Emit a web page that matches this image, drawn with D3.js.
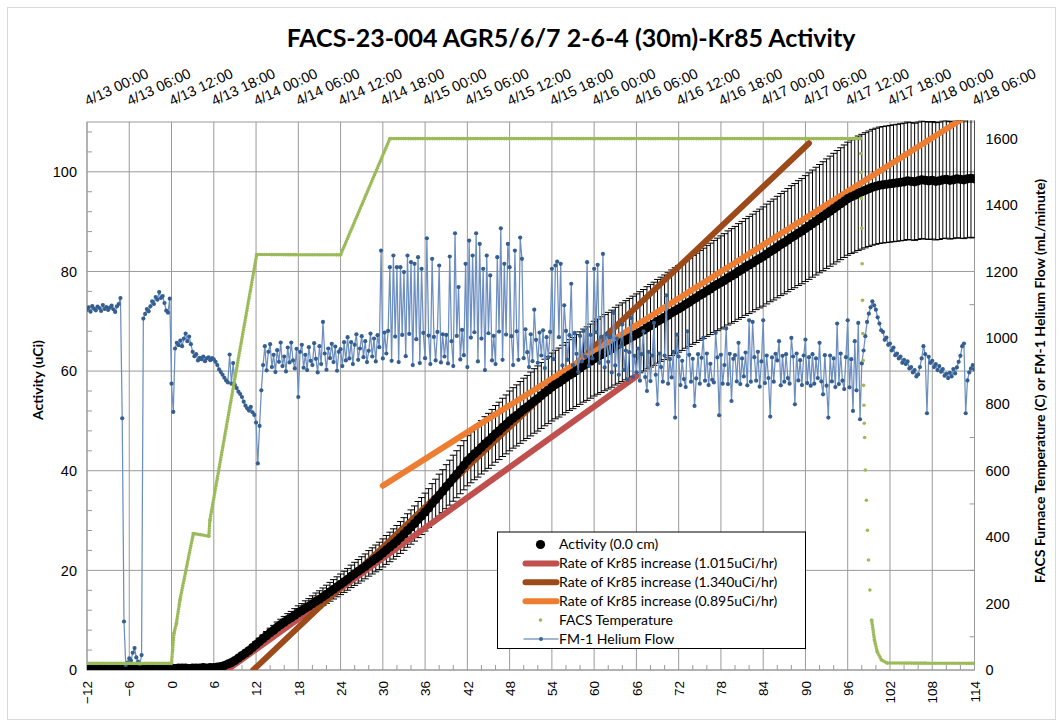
<!DOCTYPE html>
<html>
<head>
<meta charset="utf-8">
<script src="https://cdn.jsdelivr.net/npm/d3@7"></script>
<style>
  body { margin: 0; background: #fff; }
  svg { display: block; font-family: Lato, "Open Sans", "Liberation Sans", sans-serif; }
</style>
</head>
<body>
<svg id="chart" width="1063" height="728"></svg>
<script>
// ---------------- data ----------------
// Bottom axis: hours from start of heat-up
const hourTicks = [-12,-6,0,6,12,18,24,30,36,42,48,54,60,66,72,78,84,90,96,102,108,114];
// Top axis: clock time for the same span
const clockTicks = ["4/13 00:00","4/13 06:00","4/13 12:00","4/13 18:00","4/14 00:00","4/14 06:00",
  "4/14 12:00","4/14 18:00","4/15 00:00","4/15 06:00","4/15 12:00","4/15 18:00","4/16 00:00",
  "4/16 06:00","4/16 12:00","4/16 18:00","4/17 00:00","4/17 06:00","4/17 12:00","4/17 18:00",
  "4/18 00:00","4/18 06:00"];
const activityTicks = [0,20,40,60,80,100];
const secondaryTicks = [0,200,400,600,800,1000,1200,1400,1600];

// Kr-85 activity (uCi), one reading every half hour starting at -12 h
const activityStartHour = -12, activityInterval = 0.5;
const activity = [
  0.4,0.3,0.4,0.4,0.3,0.4,0.3,0.4,0.4,0.3,0.4,0.4,0.3,0.4,0.4,0.3,0.3,0.4,0.4,0.3,0.4,0.4,0.3,0.4,
  0.4,0.3,0.4,0.4,0.4,0.3,0.4,0.4,0.4,0.5,0.4,0.5,0.5,
  0.6,0.7,0.9,1.2,1.5,1.9,2.4,2.9,3.4,3.9,4.5,5.1,
  5.7,6.3,6.9,7.5,8.0,8.6,9.1,9.6,10.1,10.5,11.0,11.5,
  11.9,12.4,12.8,13.3,13.8,14.2,14.7,15.2,15.7,16.2,16.7,17.2,
  17.7,18.2,18.8,19.3,19.8,20.3,20.8,21.4,21.9,22.4,22.9,23.5,
  24.1,24.7,25.3,25.9,26.6,27.3,28.0,28.7,29.4,30.2,30.9,31.7,
  32.5,33.4,34.2,35.1,35.9,36.8,37.6,38.5,39.3,40.2,41.1,42.0,
  42.7,43.4,44.0,44.7,45.4,46.0,46.7,47.4,48.0,48.7,49.3,50.0,
  50.6,51.1,51.7,52.3,52.8,53.4,54.0,54.5,55.1,55.7,56.2,56.8,
  57.3,57.7,58.2,58.7,59.2,59.6,60.1,60.6,61.1,61.5,62.0,62.5,
  62.9,63.3,63.7,64.1,64.5,65.0,65.4,65.8,66.2,66.6,67.0,67.4,
  67.8,68.2,68.7,69.1,69.5,70.0,70.4,70.8,71.2,71.7,72.1,72.5,
  72.9,73.4,73.8,74.3,74.7,75.2,75.6,76.1,76.5,77.0,77.4,77.8,
  78.2,78.7,79.1,79.5,80.0,80.4,80.9,81.3,81.7,82.2,82.6,83.0,
  83.5,84.0,84.4,84.9,85.4,85.8,86.3,86.8,87.2,87.7,88.1,88.6,
  89.1,89.6,90.1,90.6,91.1,91.6,92.1,92.6,93.1,93.6,94.1,94.6,
  95.0,95.3,95.7,96.0,96.3,96.6,96.9,97.1,97.3,97.4,97.5,97.6,
  97.7,97.8,97.9,98.0,98.2,98.1,98.0,98.2,98.4,98.3,98.2,98.3,
  98.1,98.2,98.4,98.5,98.3,98.4,98.6,98.5,98.4,98.6,98.7,98.6
];
const activityErrorPct = 0.12;

// Fitted rates of Kr-85 increase: start point (h, uCi), rate (uCi/hr), end hour
const rateLabels = ["1.015", "1.340", "0.895"];
const rateStartHour = [7.9, 11.6, 30];
const rateStartValue = [0, 0, 37];
const rateEndHour = [66, 90.5, 112.5];
const rateColors = ["#c0504d", "#9c4a1a", "#ed7d31"];

// FACS furnace temperature (C) readings
const tempHours = [-12, 0, 0.15, 0.35, 0.7, 1.2, 3.1, 5.3, 5.45, 12.1, 24.0, 31.0, 97.8,
  97.85, 97.9, 97.95, 98.0, 98.05, 98.1, 98.15, 98.2, 98.25, 98.3, 98.35, 98.4,
  98.5, 98.65, 98.8, 98.95, 99.15, 99.4, 99.8, 100.2, 100.8, 101.6, 114];
const tempValues = [20, 20, 60, 111, 141, 211, 411, 403, 451, 1251, 1250, 1600, 1600,
  1555, 1498, 1420, 1330, 1223, 1113, 1013, 932, 857, 797, 743, 700,
  602, 511, 421, 331, 241, 150, 90, 54, 30, 21, 20];

// FM-1 helium flow (mL/min), one reading every quarter hour starting at -12 h
const flowStartHour = -12, flowInterval = 0.25;
const flow = [
  1085,1092,1079,1096, 1088,1083,1094,1090, 1081,1099,1087,1093, 1084,1091,1097,1086,
  1078,1095,1102,1120, 758,146,15,22, 35,28,52,66, 38,25,18,45,
  1058,1072,1087,1080, 1095,1110,1102,1123, 1115,1138,1120,1126, 1105,1082,1076,1118,
  862,777,968,985, 978,992,975,998, 1013,990,1004,981, 958,945,951,932,
  940,936,944,930, 938,941,933,939, 935,928,918,905, 897,889,880,872,
  866,950,862,924, 858,849,838,831, 822,808,796,788, 781,792,776,768,
  745,622,735,842, 918,975,902,958, 981,912,949,897, 963,928,986,915,
  944,899,971,926, 986,932,908,967, 822,958,979,910, 949,903,972,931,
  918,984,937,896, 975,921,1048,953, 904,968,939,982, 927,974,901,958,
  966,915,987,932, 1002,938,987,921, 979,1011,934,968, 1005,942,990,927,
  961,1013,944,998, 929,1008,972,1263, 938,1016,953,1021, 1213,931,1248,1004,
  1213,927,1213,1009, 1198,945,1248,1012, 1228,918,1223,996, 1243,924,1208,1015,
  939,1300,1007,921, 1238,1003,932,1018, 1218,926,1011,944, 1009,923,1245,990,
  915,1315,1006,1153, 935,1024,948,1223, 912,1293,1001,1248, 1017,1315,929,1283,
  998,1208,903,1248, 1014,1188,932,1006, 921,1243,1019,1330, 934,1223,1010,1283,
  1213,1005,918,1263, 1020,934,1302,1238, 939,1026,957,912, 1011,930,1085,994,
  925,1016,947,1023, 909,1002,941,1018, 1208,936,1218,1230, 1002,1223,917,1098,
  1021,934,1008,1163, 918,1015,952,897, 1006,929,1021,943, 1228,916,1009,938,
  1208,1017,1220,925, 1003,1253,911,1012, 928,1002,896,1075, 917,998,889,975,
  1040,903,962,874, 957,1060,882,946, 896,968,871,951, 1020,882,840,958,
  870,947,1045,889, 800,953,912,868, 947,1128,862,936, 881,958,760,1010,
  944,858,931,876, 852,1020,949,868, 937,795,878,951, 862,940,1000,871,
  953,858,922,874, 866,1015,941,767, 949,862,918,1028, 861,952,810,937,
  948,869,985,861, 938,884,956,857, 1053,868,1048,942, 871,958,853,929,
  1053,864,947,879, 763,941,868,952, 932,990,857,946, 868,951,879,862,
  1000,944,800,953, 872,933,858,947, 995,864,942,856, 951,862,938,879,
  985,869,830,948, 856,760,947,869, 938,852,1043,861, 953,871,846,942,
  1053,851,936,780, 990,842,1045,755, 923,962,1005,1048, 1073,1092,1110,1098,
  1085,1062,1043,1023, 1018,994,1001,979, 983,962,971,948, 953,938,944,925,
  934,921,929,908, 912,896,903,884, 890,912,938,975, 951,773,943,925,
  931,912,921,903, 915,898,906,886, 892,879,895,884, 906,893,911,928,
  946,975,983,773, 872,896,908,918,
  905
];

// ---------------- layout ----------------
const svg = d3.select("#chart");
const plot = { left: 87, right: 974.5, top: 122, bottom: 670 };

const x = d3.scaleLinear().domain([-12, 114]).range([plot.left, plot.right]);
const y = d3.scaleLinear().domain([0, 110]).range([plot.bottom, plot.top]);
const y2 = d3.scaleLinear().domain([0, 1650]).range([plot.bottom, plot.top]);

const parseClock = d3.timeParse("%Y/%m/%d %H:%M");
const clockDates = clockTicks.map(s => parseClock("2023/" + s));
const xClock = d3.scaleTime().domain([clockDates[0], clockDates[clockDates.length - 1]])
  .range([plot.left, plot.right]);

const gridColor = "#9a9a9a";

// chart area frame
svg.append("rect").attr("x", 7.5).attr("y", 7.5).attr("width", 1048).attr("height", 712)
  .attr("fill", "#fff").attr("stroke", "#d9d9d9");

// title
svg.append("text").attr("x", 571).attr("y", 47).attr("text-anchor", "middle")
  .attr("font-size", 25).attr("font-weight", "bold").attr("fill", "#000")
  .text("FACS-23-004 AGR5/6/7 2-6-4 (30m)-Kr85 Activity");

// gridlines
const grid = svg.append("g");
grid.selectAll("line.v").data(hourTicks).join("line")
  .attr("x1", d => x(d)).attr("x2", d => x(d))
  .attr("y1", plot.top).attr("y2", plot.bottom)
  .attr("stroke", gridColor).attr("stroke-width", 1);
grid.selectAll("line.h").data(activityTicks).join("line").attr("class", "h")
  .attr("x1", plot.left).attr("x2", plot.right)
  .attr("y1", d => y(d)).attr("y2", d => y(d))
  .attr("stroke", gridColor).attr("stroke-width", 1);
svg.append("rect").attr("x", plot.left).attr("y", plot.top)
  .attr("width", plot.right - plot.left).attr("height", plot.bottom - plot.top)
  .attr("fill", "none").attr("stroke", gridColor);

// minor tick marks (inside)
const minorBottom = d3.range(-12, 115, 2).filter(d => (d % 6) !== 0);
svg.append("g").selectAll("line").data(minorBottom).join("line")
  .attr("x1", d => x(d)).attr("x2", d => x(d))
  .attr("y1", plot.bottom).attr("y2", plot.bottom - 5).attr("stroke", gridColor);
const minorLeft = d3.range(0, 111, 4).filter(d => (d % 20) !== 0);
svg.append("g").selectAll("line").data(minorLeft).join("line")
  .attr("x1", plot.left).attr("x2", plot.left + 5)
  .attr("y1", d => y(d)).attr("y2", d => y(d)).attr("stroke", gridColor);
const minorRight = d3.range(100, 1650, 200);
svg.append("g").selectAll("line").data(minorRight).join("line")
  .attr("x1", plot.right).attr("x2", plot.right - 5)
  .attr("y1", d => y2(d)).attr("y2", d => y2(d)).attr("stroke", gridColor);

// axes
function styleAxis(g) {
  g.select(".domain").remove();
  g.selectAll(".tick line").remove();
  g.selectAll("text").attr("fill", "#000").attr("font-family", null);
}
const bottomAxis = svg.append("g").attr("transform", `translate(0,${plot.bottom})`)
  .call(d3.axisBottom(x).tickValues(hourTicks).tickFormat(d3.format("d")).tickSize(0))
  .call(styleAxis);
bottomAxis.selectAll("text")
  .attr("font-size", 13.5)
  .attr("transform", "translate(0,11) rotate(-90)")
  .attr("text-anchor", "end").attr("x", 0).attr("y", 0).attr("dy", "0.35em");

const topAxis = svg.append("g").attr("transform", `translate(0,${plot.top})`)
  .call(d3.axisTop(xClock).tickValues(clockDates).tickFormat((d, i) => clockTicks[i]).tickSize(0))
  .call(styleAxis);
topAxis.selectAll("text")
  .attr("font-size", 14.5)
  .attr("text-anchor", "start").attr("x", 0).attr("y", 0).attr("dy", 0)
  .attr("transform", "translate(0,-16) rotate(-25)");

const leftAxis = svg.append("g").attr("transform", `translate(${plot.left},0)`)
  .call(d3.axisLeft(y).tickValues(activityTicks).tickSize(0).tickPadding(10))
  .call(styleAxis);
leftAxis.selectAll("text").attr("font-size", 14.5);

const rightAxis = svg.append("g").attr("transform", `translate(${plot.right},0)`)
  .call(d3.axisRight(y2).tickValues(secondaryTicks).tickFormat(d3.format("d")).tickSize(0).tickPadding(11))
  .call(styleAxis);
rightAxis.selectAll("text").attr("font-size", 14.5);

// axis titles
svg.append("text").attr("transform", "translate(43,380) rotate(-90)")
  .attr("text-anchor", "middle").attr("font-size", 14).attr("font-weight", "bold")
  .text("Activity (uCi)");
svg.append("text").attr("transform", "translate(1045,381) rotate(-90)")
  .attr("text-anchor", "middle").attr("font-size", 14).attr("font-weight", "bold")
  .text("FACS Furnace Temperature (C) or FM-1 Helium Flow (mL/minute)");

// ---------------- marks ----------------
svg.append("defs").append("clipPath").attr("id", "plotClip")
  .append("rect").attr("x", plot.left).attr("y", plot.top - 1.5)
  .attr("width", plot.right - plot.left).attr("height", plot.bottom - plot.top + 1.5);
const marks = svg.append("g").attr("clip-path", "url(#plotClip)");

const actData = activity.map((v, i) => ({ h: activityStartHour + i * activityInterval, v }));

// percentage error bars
const eb = marks.append("g").attr("stroke", "#000").attr("stroke-width", 1);
actData.forEach(d => {
  const lo = y(d.v * (1 - activityErrorPct)), hi = y(d.v * (1 + activityErrorPct)), cx = x(d.h);
  eb.append("line").attr("x1", cx).attr("x2", cx).attr("y1", lo).attr("y2", hi);
  eb.append("line").attr("x1", cx - 3.5).attr("x2", cx + 3.5).attr("y1", lo).attr("y2", lo);
  eb.append("line").attr("x1", cx - 3.5).attr("x2", cx + 3.5).attr("y1", hi).attr("y2", hi);
});

// fitted rate lines
const rateRates = rateLabels.map(Number);
rateLabels.forEach((lab, i) => {
  const pts = [
    [rateStartHour[i], rateStartValue[i]],
    [rateEndHour[i], rateStartValue[i] + rateRates[i] * (rateEndHour[i] - rateStartHour[i])]
  ];
  marks.append("path").datum(pts)
    .attr("d", d3.line().x(d => x(d[0])).y(d => y(d[1])))
    .attr("fill", "none").attr("stroke", rateColors[i]).attr("stroke-width", 6)
    .attr("stroke-linecap", "round");
});

// activity markers
marks.append("g").selectAll("circle").data(actData).join("circle")
  .attr("cx", d => x(d.h)).attr("cy", d => y(d.v)).attr("r", 4.6).attr("fill", "#000");

// helium flow: thin connecting line then markers
const flowData = flow.map((v, i) => ({ h: flowStartHour + i * flowInterval, v }));
marks.append("path").datum(flowData)
  .attr("d", d3.line().x(d => x(d.h)).y(d => y2(d.v)))
  .attr("fill", "none").attr("stroke", "#6d8fc0").attr("stroke-width", 1.25);
marks.append("g").selectAll("circle").data(flowData).join("circle")
  .attr("cx", d => x(d.h)).attr("cy", d => y2(d.v)).attr("r", 2.1).attr("fill", "#355f91");

// furnace temperature: densely logged dots; slow stretches drawn as a dotted run,
// fast changes show the individual readings
const tempData = tempHours.map((h, i) => ({ h, v: tempValues[i] }));
const fastRate = 350; // C per hour
const runs = [];
let run = [tempData[0]];
for (let i = 1; i < tempData.length; i++) {
  const a = tempData[i - 1], b = tempData[i];
  const rate = Math.abs(b.v - a.v) / (b.h - a.h);
  if (rate > fastRate) { runs.push(run); run = [b]; }
  else run.push(b);
}
runs.push(run);
const tempG = marks.append("g");
runs.filter(r => r.length > 1).forEach(r => {
  tempG.append("path").datum(r)
    .attr("d", d3.line().x(d => x(d.h)).y(d => y2(d.v)))
    .attr("fill", "none").attr("stroke", "#9bbb59").attr("stroke-width", 3.6)
    .attr("stroke-linecap", "round").attr("stroke-dasharray", "0 2.4");
});
tempG.selectAll("circle").data(tempData).join("circle")
  .attr("cx", d => x(d.h)).attr("cy", d => y2(d.v)).attr("r", 1.8).attr("fill", "#9bbb59");

// ---------------- legend ----------------
const lg = svg.append("g").attr("transform", "translate(497.5,532)");
lg.append("rect").attr("width", 308).attr("height", 116.5)
  .attr("fill", "#fff").attr("stroke", "#000").attr("stroke-width", 1);
const rowY = i => 12.5 + i * 18.9;
const legendText = [
  "Activity (0.0 cm)",
  ...rateLabels.map(r => `Rate of Kr85 increase (${r}uCi/hr)`),
  "FACS Temperature",
  "FM-1 Helium Flow"
];
legendText.forEach((t, i) => {
  lg.append("text").attr("x", 61.5).attr("y", rowY(i)).attr("dy", "0.35em")
    .attr("font-size", 14).attr("fill", "#000").text(t);
});
lg.append("circle").attr("cx", 43).attr("cy", rowY(0)).attr("r", 4.6).attr("fill", "#000");
rateColors.forEach((c, i) => {
  lg.append("line").attr("x1", 28).attr("x2", 59).attr("y1", rowY(i + 1)).attr("y2", rowY(i + 1))
    .attr("stroke", c).attr("stroke-width", 6).attr("stroke-linecap", "round");
});
lg.append("circle").attr("cx", 43).attr("cy", rowY(4)).attr("r", 1.8).attr("fill", "#9bbb59");
lg.append("line").attr("x1", 26).attr("x2", 61).attr("y1", rowY(5)).attr("y2", rowY(5))
  .attr("stroke", "#7f9ec8").attr("stroke-width", 1.5);
lg.append("circle").attr("cx", 43.5).attr("cy", rowY(5)).attr("r", 2).attr("fill", "#3a6595");
</script>
</body>
</html>
